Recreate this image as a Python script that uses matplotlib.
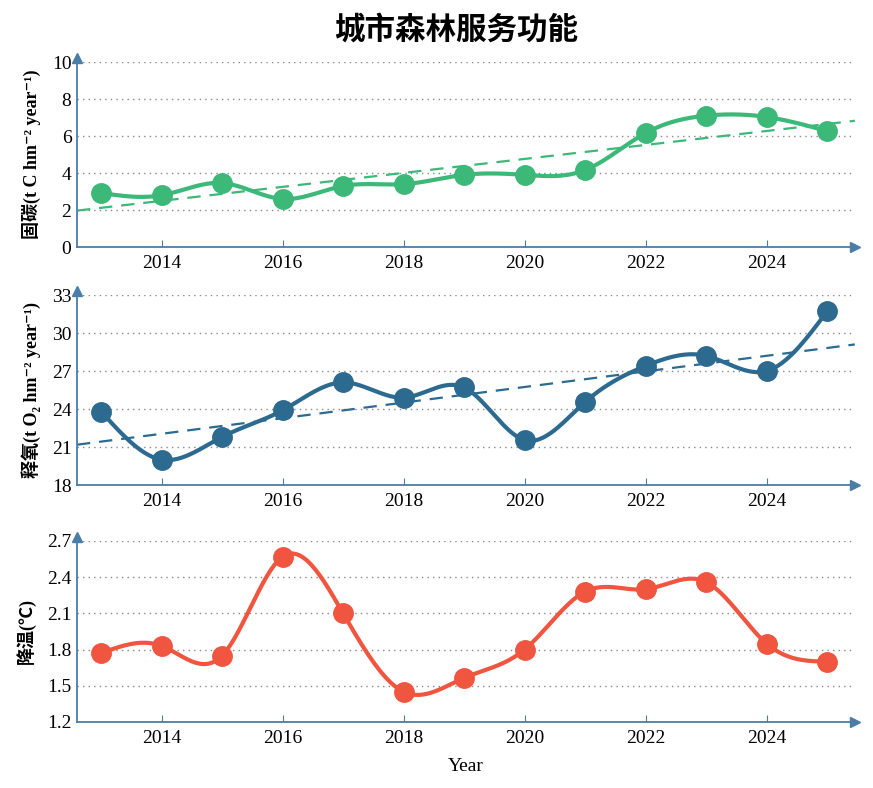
import numpy as np
import matplotlib
matplotlib.use("Agg")
import matplotlib.pyplot as plt

# data
years = [2013, 2014, 2015, 2016, 2017, 2018, 2019, 2020, 2021, 2022, 2023, 2024, 2025]
carbon = [2.92, 2.80, 3.46, 2.60, 3.30, 3.40, 3.90, 3.90, 4.16, 6.16, 7.10, 7.03, 6.27]
oxygen = [23.8, 20.0, 21.8, 23.9, 26.1, 24.9, 25.7, 21.55, 24.55, 27.4, 28.2, 27.0, 31.7]
cooling = [1.77, 1.83, 1.75, 2.57, 2.10, 1.45, 1.565, 1.80, 2.28, 2.30, 2.36, 1.85, 1.70]

xticks = [2014, 2016, 2018, 2020, 2022, 2024]
yticks_c = [0, 2, 4, 6, 8, 10]
yticks_o = [18, 21, 24, 27, 30, 33]
yticks_t = [1.2, 1.5, 1.8, 2.1, 2.4, 2.7]

title = "城市森林服务功能"
ylabels = ["固碳(t C hm⁻² year⁻¹)", "释氧(t O₂ hm⁻² year⁻¹)", "降温(℃)"]
colors = ["#3cb878", "#2d6a90", "#f05540"]
axis_color = "#4a7ea6"
fonts = ["Liberation Serif", "Noto Sans CJK SC", "DejaVu Sans"]


def natural_spline(x, y, xs):
    # natural cubic spline, just for drawing the smooth line
    x = np.asarray(x, float)
    y = np.asarray(y, float)
    n = len(x)
    h = np.diff(x)
    A = np.zeros((n, n))
    b = np.zeros(n)
    A[0, 0] = A[-1, -1] = 1
    for i in range(1, n - 1):
        A[i, i - 1] = h[i - 1]
        A[i, i] = 2 * (h[i - 1] + h[i])
        A[i, i + 1] = h[i]
        b[i] = 3 * ((y[i + 1] - y[i]) / h[i] - (y[i] - y[i - 1]) / h[i - 1])
    c = np.linalg.solve(A, b)
    bc = (y[1:] - y[:-1]) / h - h * (2 * c[:-1] + c[1:]) / 3
    d = (c[1:] - c[:-1]) / (3 * h)
    idx = np.clip(np.searchsorted(x, xs) - 1, 0, n - 2)
    t = xs - x[idx]
    return y[idx] + bc[idx] * t + c[idx] * t ** 2 + d[idx] * t ** 3


fig = plt.figure(figsize=(8.73, 7.88), dpi=100)
fig.text(0.523, 0.962, title, ha="center", va="center", fontsize=22,
         fontweight="bold", family=["Noto Sans CJK SC"])

boxes = [
    [0.0882, 0.6865, 0.891, 0.2348],
    [0.0882, 0.3845, 0.891, 0.2411],
    [0.0882, 0.0838, 0.891, 0.2297],
]
series = [carbon, oxygen, cooling]
yticks_all = [yticks_c, yticks_o, yticks_t]
trend = [True, True, False]

xmin, xmax = 2012.6, 2025.46
xs = np.linspace(2013, 2025, 400)

for k in range(3):
    ax = fig.add_axes(boxes[k])
    vals = series[k]
    col = colors[k]
    yt = yticks_all[k]

    ax.plot(xs, natural_spline(years, vals, xs), color=col, lw=3, zorder=3)
    ax.plot(years, vals, "o", color=col, ms=14, zorder=4)
    if trend[k]:
        p = np.polyfit(years, vals, 1)
        tx = np.array([xmin, xmax])
        ax.plot(tx, np.polyval(p, tx), "--", color=col, lw=1.6,
                dashes=(6, 4), zorder=2)

    ax.set_xlim(xmin, xmax)
    ax.set_ylim(yt[0], yt[-1])
    ax.set_xticks(xticks)
    ax.set_yticks(yt)
    if k == 2:
        ax.set_yticklabels(["%.1f" % v for v in yt])
    ax.yaxis.grid(True, linestyle=(0, (1, 3)), color="#888888", lw=1)
    ax.set_axisbelow(True)

    for s in ["top", "right"]:
        ax.spines[s].set_visible(False)
    for s in ["left", "bottom"]:
        ax.spines[s].set_color(axis_color)
        ax.spines[s].set_linewidth(1.3)
    ax.tick_params(axis="x", direction="in", length=5, color=axis_color,
                   labelsize=14, pad=6)
    ax.tick_params(axis="y", length=0, labelsize=14, pad=4)
    for lab in ax.get_xticklabels() + ax.get_yticklabels():
        lab.set_family(fonts)

    # arrow heads on the axes
    ax.plot(1, 0, ">", color=axis_color, ms=7, transform=ax.transAxes,
            clip_on=False, zorder=5)
    ax.plot(0, 1.02, "^", color=axis_color, ms=7, transform=ax.transAxes,
            clip_on=False, zorder=5)

    ax.set_ylabel(ylabels[k], fontsize=13, fontweight="bold",
                  family=fonts, labelpad=8)

    if k == 2:
        ax.set_xlabel("Year", fontsize=14, family=fonts, labelpad=8)

fig.savefig("out.png", dpi=100)
